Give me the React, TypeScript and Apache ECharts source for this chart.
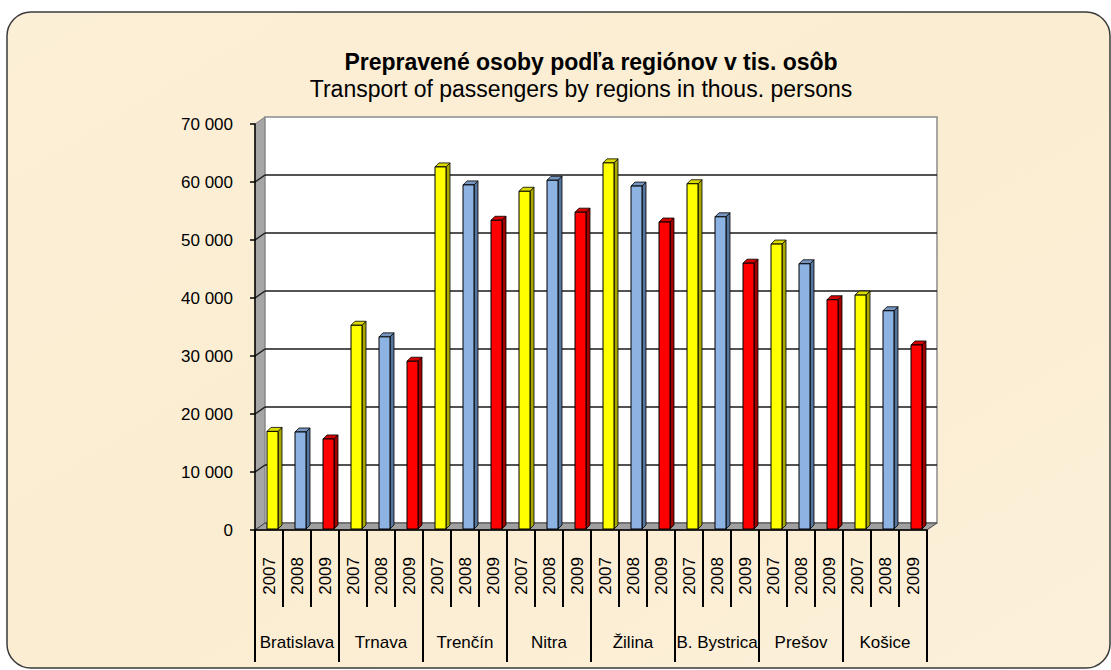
import React, { useEffect, useRef } from "react";
import * as echarts from "echarts";

const regions = ["Bratislava", "Trnava", "Trenčín", "Nitra", "Žilina", "B. Bystrica", "Prešov", "Košice"];
const years = ["2007", "2008", "2009"];
const v2007 = [17000, 35300, 62600, 58400, 63300, 59700, 49300, 40500];
const v2008 = [16900, 33300, 59500, 60300, 59300, 54000, 45900, 37800];
const v2009 = [15700, 29100, 53400, 54800, 53100, 46000, 39700, 31900];
const yTicks = [0, 10000, 20000, 30000, 40000, 50000, 60000, 70000];
const titleText = "Prepravené osoby podľa regiónov v tis. osôb";
const subtitleText = "Transport of passengers by regions in thous. persons";

const FONT = "'Liberation Sans', Arial, sans-serif";

const palette = [
  { front: "#FFFF00", side: "#A8A800", top: "#DADA00" },
  { front: "#8DB3E2", side: "#56769E", top: "#7696C0" },
  { front: "#FF0000", side: "#A00000", top: "#D40000" },
];

const fmt = (v: number) => String(v).replace(/\B(?=(\d{3})+(?!\d))/g, " ");

export default function App() {
  const ref = useRef<HTMLDivElement>(null);
  useEffect(() => {
    if (!ref.current) return;
    const chart = echarts.init(ref.current, undefined, { renderer: "svg" });
    const yearCats: string[] = [];
    regions.forEach(() => years.forEach((y) => yearCats.push(y)));
    const seriesVals = [v2007, v2008, v2009];

    const wallSeries: any = {
      type: "custom",
      name: "walls",
      z: 1,
      silent: true,
      data: [[0, 0]],
      renderItem: (params: any, api: any) => {
        const cs = params.coordSys;
        const x = cs.x, y = cs.y, w = cs.width, h = cs.height;
        const dx = 10, dy = -7;
        const children: any[] = [];
        children.push({
          type: "polygon",
          shape: { points: [[x, y], [x + dx, y + dy], [x + dx, y + h + dy], [x, y + h]] },
          style: { fill: "#A6A6A6", stroke: "#7F7F7F", lineWidth: 1 },
        });
        children.push({
          type: "rect",
          shape: { x: x + dx, y: y + dy, width: w, height: h },
          style: { fill: "#FFFFFF", stroke: "#8C8C8C", lineWidth: 1.5 },
        });
        yTicks.forEach((t) => {
          if (t === 0 || t === 70000) return;
          const yy = api.coord([0, t])[1];
          children.push({
            type: "line",
            shape: { x1: x + dx, y1: yy + dy, x2: x + w + dx, y2: yy + dy },
            style: { stroke: "#1A1A1A", lineWidth: 1.5 },
          });
          children.push({
            type: "line",
            shape: { x1: x, y1: yy, x2: x + dx, y2: yy + dy },
            style: { stroke: "#1A1A1A", lineWidth: 1.5 },
          });
        });
        children.push({
          type: "polygon",
          shape: { points: [[x, y + h], [x + dx, y + h + dy], [x + w + dx, y + h + dy], [x + w, y + h]] },
          style: { fill: "#A0A0A0", stroke: "#404040", lineWidth: 1 },
        });
        return { type: "group", children };
      },
    };

    const barSeries = years.map((yr, k) => ({
      type: "custom",
      name: yr,
      z: 3,
      data: seriesVals[k].map((v, i) => [i * 3 + k, v]),
      renderItem: (params: any, api: any) => {
        const idx = api.value(0);
        const val = api.value(1);
        const c = api.coord([idx, val]);
        const c0 = api.coord([idx, 0]);
        const bw = api.size([1, 0])[0];
        const s = bw / 28;
        const fx = c[0] - 2 * s;
        const fw = 11 * s;
        const d = 4 * s;
        const top = c[1];
        const bottom = c0[1] - 1;
        const col = palette[k];
        return {
          type: "group",
          children: [
            {
              type: "polygon",
              shape: { points: [[fx + fw, top], [fx + fw + d, top - d], [fx + fw + d, bottom - d], [fx + fw, bottom]] },
              style: { fill: col.side, stroke: "#000", lineWidth: 0.8 },
            },
            {
              type: "polygon",
              shape: { points: [[fx, top], [fx + d, top - d], [fx + fw + d, top - d], [fx + fw, top]] },
              style: { fill: col.top, stroke: "#000", lineWidth: 0.8 },
            },
            {
              type: "rect",
              shape: { x: fx, y: top, width: fw, height: bottom - top },
              style: { fill: col.front, stroke: "#000", lineWidth: 1 },
            },
          ],
        };
      },
    }));

    chart.setOption({
      animation: false,
      backgroundColor: "#FFFFFF",
      graphic: [
        {
          type: "rect",
          z: -10,
          shape: { x: 7, y: 12, width: 1103, height: 656, r: 24 },
          style: {
            fill: new echarts.graphic.LinearGradient(0, 0, 1, 1, [
              { offset: 0, color: "#FCEFD7" },
              { offset: 0.5, color: "#FBEDD1" },
              { offset: 1, color: "#FCF0DA" },
            ]),
            stroke: "#3A3A3A",
            lineWidth: 1.5,
          },
          silent: true,
        },
        {
          type: "text",
          x: 591,
          y: 62,
          style: {
            text: titleText,
            font: `bold 23px ${FONT}`,
            fill: "#000",
            textAlign: "center",
            textVerticalAlign: "middle",
          },
        },
        {
          type: "text",
          x: 581,
          y: 89,
          style: {
            text: subtitleText,
            font: `23px ${FONT}`,
            fill: "#000",
            textAlign: "center",
            textVerticalAlign: "middle",
          },
        },
      ],
      grid: { left: 255, right: 184, top: 124, bottom: 140, containLabel: false },
      xAxis: [
        {
          type: "category",
          data: yearCats,
          boundaryGap: true,
          axisLine: { show: true, lineStyle: { color: "#000", width: 1.5 } },
          axisTick: { show: true, length: 77, interval: 0, lineStyle: { color: "#000", width: 2 } },
          axisLabel: {
            interval: 0,
            rotate: 90,
            margin: 27,
            fontSize: 17,
            color: "#000",
            fontFamily: FONT,
          },
          splitLine: { show: false },
          z: 5,
        },
        {
          type: "category",
          data: regions,
          position: "bottom",
          boundaryGap: true,
          axisLine: { show: false },
          axisTick: { show: true, length: 132, interval: 0, lineStyle: { color: "#000", width: 2 } },
          axisLabel: {
            interval: 0,
            margin: 104,
            fontSize: 17,
            color: "#000",
            fontFamily: FONT,
          },
          splitLine: { show: false },
          z: 5,
        },
      ],
      yAxis: {
        type: "value",
        min: 0,
        max: 70000,
        interval: 10000,
        axisLine: { show: true, lineStyle: { color: "#000", width: 1.5 } },
        axisTick: { show: true, length: 5, lineStyle: { color: "#000", width: 1.5 } },
        axisLabel: {
          margin: 22,
          fontSize: 17,
          color: "#000",
          fontFamily: FONT,
          formatter: (v: number) => fmt(v),
        },
        splitLine: { show: false },
        z: 5,
      },
      series: [wallSeries, ...barSeries],
    });
    return () => chart.dispose();
  }, []);
  return (
    <div
      ref={ref}
      style={{ position: "fixed", left: 0, top: 0, width: 1111, height: 670 }}
    />
  );
}
